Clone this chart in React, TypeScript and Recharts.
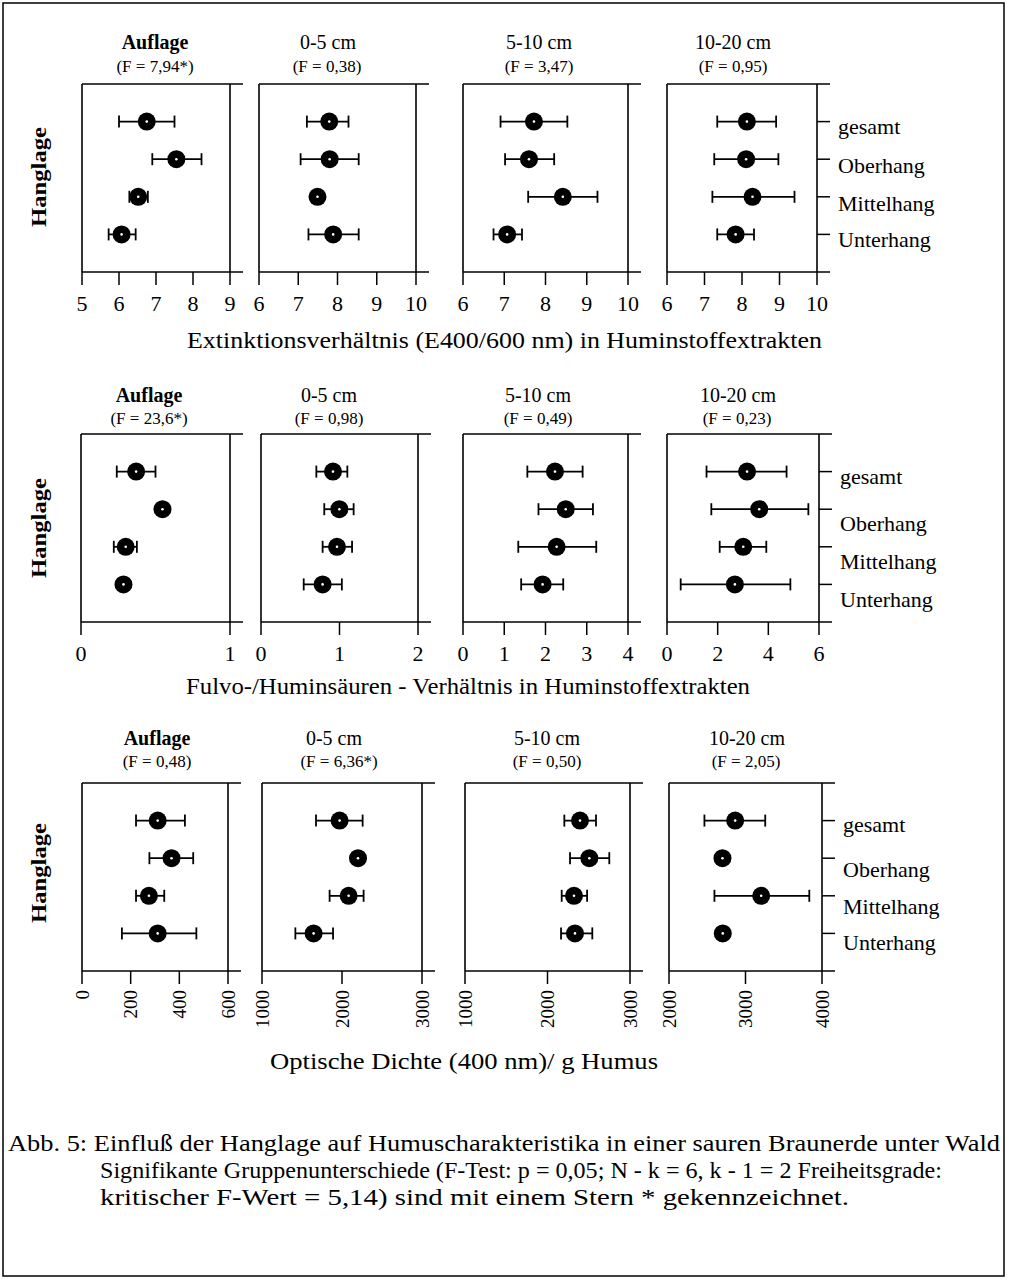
import React from "react";
import { ScatterChart, Scatter, XAxis, YAxis, ErrorBar } from "recharts";

const slopes = ["gesamt", "Oberhang", "Mittelhang", "Unterhang"];
const depths = ["Auflage", "0-5 cm", "5-10 cm", "10-20 cm"];

// Extinktionsverhältnis E400/600 (Mittelwert, untere / obere Grenze), je Tiefe: gesamt, Ober-, Mittel-, Unterhang
const extF = ["(F = 7,94*)", "(F = 0,38)", "(F = 3,47)", "(F = 0,95)"];
const extMean = [
  [6.75, 7.55, 6.52, 6.07],
  [7.79, 7.8, 7.49, 7.89],
  [7.72, 7.6, 8.42, 7.07],
  [8.13, 8.11, 8.28, 7.83],
];
const extLow = [
  [6.0, 6.9, 6.28, 5.72],
  [7.22, 7.06, 7.42, 7.26],
  [6.91, 7.02, 7.58, 6.74],
  [7.34, 7.26, 7.21, 7.34],
];
const extHigh = [
  [7.5, 8.23, 6.78, 6.45],
  [8.28, 8.54, 7.56, 8.54],
  [8.53, 8.21, 9.26, 7.43],
  [8.91, 8.97, 9.4, 8.32],
];
const extTicks = [
  [5, 6, 7, 8, 9],
  [6, 7, 8, 9, 10],
  [6, 7, 8, 9, 10],
  [6, 7, 8, 9, 10],
];

// Fulvo-/Huminsäuren-Verhältnis
const fhF = ["(F = 23,6*)", "(F = 0,98)", "(F = 0,49)", "(F = 0,23)"];
const fhMean = [
  [0.37, 0.547, 0.3, 0.285],
  [0.917, 0.998, 0.968, 0.785],
  [2.23, 2.49, 2.27, 1.93],
  [3.16, 3.64, 3.01, 2.68],
];
const fhLow = [
  [0.24, 0.53, 0.22, 0.27],
  [0.705, 0.806, 0.785, 0.544],
  [1.56, 1.83, 1.34, 1.41],
  [1.56, 1.75, 2.08, 0.54],
];
const fhHigh = [
  [0.5, 0.56, 0.375, 0.3],
  [1.1, 1.18, 1.16, 1.03],
  [2.9, 3.15, 3.23, 2.43],
  [4.72, 5.58, 3.92, 4.87],
];
const fhTicks = [
  [0, 1],
  [0, 1, 2],
  [0, 1, 2, 3, 4],
  [0, 2, 4, 6],
];

// Optische Dichte (400 nm) / g Humus
const odF = ["(F = 0,48)", "(F = 6,36*)", "(F = 0,50)", "(F = 2,05)"];
const odMean = [
  [311, 368, 275, 311],
  [1970, 2200, 2083, 1645],
  [2394, 2507, 2321, 2333],
  [2865, 2699, 3205, 2703],
];
const odLow = [
  [222, 277, 222, 164],
  [1675, 2180, 1845, 1417],
  [2204, 2273, 2172, 2164],
  [2463, 2670, 2594, 2680],
];
const odHigh = [
  [423, 457, 338, 470],
  [2258, 2220, 2270, 1888],
  [2588, 2749, 2480, 2543],
  [3258, 2730, 3834, 2725],
];
const odTicks = [
  [0, 200, 400, 600],
  [1000, 2000, 3000],
  [1000, 2000, 3000],
  [2000, 3000, 4000],
];

const captionLines = [
  "Abb. 5: Einfluß der Hanglage auf Humuscharakteristika in einer sauren Braunerde unter Wald",
  "Signifikante Gruppenunterschiede (F-Test: p = 0,05; N - k = 6, k - 1 = 2 Freiheitsgrade:",
  "kritischer F-Wert = 5,14) sind mit einem Stern * gekennzeichnet.",
];

const FONT = "'Liberation Serif', 'Times New Roman', Times, serif";
const INK = "#000";
const PLOT_H = 188;
const ML = 24;
const MT = 12;

const rows = [
  { mean: extMean, low: extLow, high: extHigh, ticks: extTicks, f: extF, rotated: false,
    title: "Extinktionsverhältnis (E400/600 nm) in Huminstoffextrakten" },
  { mean: fhMean, low: fhLow, high: fhHigh, ticks: fhTicks, f: fhF, rotated: false,
    title: "Fulvo-/Huminsäuren - Verhältnis in Huminstoffextrakten" },
  { mean: odMean, low: odLow, high: odHigh, ticks: odTicks, f: odF, rotated: true,
    title: "Optische Dichte (400 nm)/ g Humus" },
];

const layout = [
  { top: 84, left: [82, 259, 463, 667], right: [230, 416, 628, 817],
    titleX: [155, 328, 539, 733], fX: [155, 327, 539, 733], titleY: 49, fY: 72,
    axisX: 187, axisY: 348, axisLen: 635, labelDy: [5, 7, 7, 6], hangY: 177 },
  { top: 434, left: [81, 261, 463, 667], right: [230, 418, 628, 819],
    titleX: [149, 329, 538, 738], fX: [149, 329, 538, 737], titleY: 402, fY: 424,
    axisX: 186, axisY: 694, axisLen: 564, labelDy: [5, 15, 15, 16], hangY: 528 },
  { top: 783, left: [82, 262, 465, 669], right: [228, 422, 630, 822],
    titleX: [157, 334, 547, 747], fX: [157, 339, 547, 746], titleY: 745, fY: 767,
    axisX: 270, axisY: 1069, axisLen: 388, labelDy: [4, 12, 11, 10], hangY: 873 },
];

const Dot = (p: any) => (
  <g>
    <circle cx={p.cx} cy={p.cy} r={9} fill={INK} />
    <circle cx={p.cx} cy={p.cy} r={1.3} fill="#fff" />
  </g>
);

const XTick = (p: any) => (
  <text x={p.x} y={p.y + 24} textAnchor="middle" fontFamily={FONT} fontSize={22} fill={INK}>
    {p.payload.value}
  </text>
);

const RotTick = (p: any) => {
  const x = p.x;
  const y = p.y + 4;
  return (
    <text x={x} y={y} dy="0.35em" transform={`rotate(-90, ${x}, ${y})`} textAnchor="end"
      fontFamily={FONT} fontSize={19} fill={INK}>
      {p.payload.value}
    </text>
  );
};

interface PanelProps {
  mean: number[];
  low: number[];
  high: number[];
  ticks: number[];
  left: number;
  right: number;
  top: number;
  rotated: boolean;
  labelDy?: number[];
}

function Panel({ mean, low, high, ticks, left, right, top, rotated, labelDy }: PanelProps) {
  const data = mean.map((m, i) => ({ x: m, y: i + 1, err: [m - low[i], high[i] - m] }));
  const plotW = right - left;
  const axisH = rotated ? 66 : 46;
  const mr = labelDy ? 170 : 20;
  const w = ML + plotW + 15 + mr;
  const h = MT + PLOT_H + axisH + 4;

  const YLabel = (p: any) => (
    <text x={p.x + 6} y={p.y + (labelDy ? labelDy[p.payload.value - 1] : 0) + 7}
      fontFamily={FONT} fontSize={22} fill={INK}>
      {slopes[p.payload.value - 1]}
    </text>
  );

  return (
    <div style={{ position: "absolute", left: left - ML, top: top - MT }}>
      <ScatterChart width={w} height={h} margin={{ top: MT, right: mr, bottom: 4, left: ML }}>
        <XAxis
          type="number"
          dataKey="x"
          domain={[ticks[0], ticks[ticks.length - 1]]}
          ticks={ticks}
          interval={0}
          allowDataOverflow
          axisLine={false}
          tickSize={13}
          tickLine={{ stroke: INK, strokeWidth: 1.5 }}
          height={axisH}
          tick={rotated ? (p: any) => <RotTick {...p} /> : (p: any) => <XTick {...p} />}
        />
        <YAxis
          type="number"
          dataKey="y"
          orientation="right"
          domain={[0, 5]}
          ticks={[1, 2, 3, 4]}
          interval={0}
          reversed
          allowDataOverflow
          width={15}
          tickSize={13}
          axisLine={{ stroke: INK, strokeWidth: 1.6 }}
          tickLine={{ stroke: INK, strokeWidth: 1.5 }}
          tick={labelDy ? (p: any) => <YLabel {...p} /> : false}
        />
        <Scatter data={data} isAnimationActive={false} shape={(p: any) => <Dot {...p} />}>
          <ErrorBar dataKey="err" direction="x" width={6} strokeWidth={1.8} stroke={INK} isAnimationActive={false} />
        </Scatter>
      </ScatterChart>
    </div>
  );
}

export default function App() {
  return (
    <div style={{ position: "relative", width: 1012, height: 1285, background: "#fff", fontFamily: FONT }}>
      <style>{"body{margin:0}"}</style>
      {rows.map((row, r) =>
        depths.map((_, c) => (
          <Panel
            key={`${r}-${c}`}
            mean={row.mean[c]}
            low={row.low[c]}
            high={row.high[c]}
            ticks={row.ticks[c]}
            left={layout[r].left[c]}
            right={layout[r].right[c]}
            top={layout[r].top}
            rotated={row.rotated}
            labelDy={c === 3 ? layout[r].labelDy : undefined}
          />
        ))
      )}
      <svg width={1012} height={1285} style={{ position: "absolute", left: 0, top: 0, pointerEvents: "none" }}>
        <rect x={3} y={3} width={1001} height={1273} fill="none" stroke={INK} strokeWidth={1.5} />
        {rows.map((row, r) => {
          const L = layout[r];
          return (
            <g key={r}>
              {depths.map((d, c) => {
                const x0 = L.left[c];
                const x1 = L.right[c] + 13;
                return (
                  <g key={c}>
                    <line x1={x0} y1={L.top} x2={x0} y2={L.top + PLOT_H} stroke={INK} strokeWidth={1.6} />
                    <line x1={x0} y1={L.top} x2={x1} y2={L.top} stroke={INK} strokeWidth={1.6} />
                    <line x1={x0} y1={L.top + PLOT_H} x2={x1} y2={L.top + PLOT_H} stroke={INK} strokeWidth={1.6} />
                    <text x={L.titleX[c]} y={L.titleY} textAnchor="middle" fontSize={20}
                      fontWeight={c === 0 ? "bold" : "normal"} fill={INK}>{d}</text>
                    <text x={L.fX[c]} y={L.fY} textAnchor="middle" fontSize={17} fill={INK}>{row.f[c]}</text>
                  </g>
                );
              })}
              <text x={L.axisX} y={L.axisY} fontSize={23} fill={INK} textLength={L.axisLen}
                lengthAdjust="spacingAndGlyphs">{row.title}</text>
              <text x={38} y={L.hangY} dy="0.35em" textAnchor="middle" fontSize={22} fontWeight="bold"
                fill={INK} transform={`rotate(-90, 38, ${L.hangY})`} textLength={100}
                lengthAdjust="spacingAndGlyphs">Hanglage</text>
            </g>
          );
        })}
        <text x={8} y={1151} fontSize={22.5} fill={INK} textLength={992} lengthAdjust="spacingAndGlyphs">{captionLines[0]}</text>
        <text x={100} y={1178} fontSize={22.5} fill={INK} textLength={842} lengthAdjust="spacingAndGlyphs">{captionLines[1]}</text>
        <text x={100} y={1205} fontSize={22.5} fill={INK} textLength={749} lengthAdjust="spacingAndGlyphs">{captionLines[2]}</text>
      </svg>
    </div>
  );
}
